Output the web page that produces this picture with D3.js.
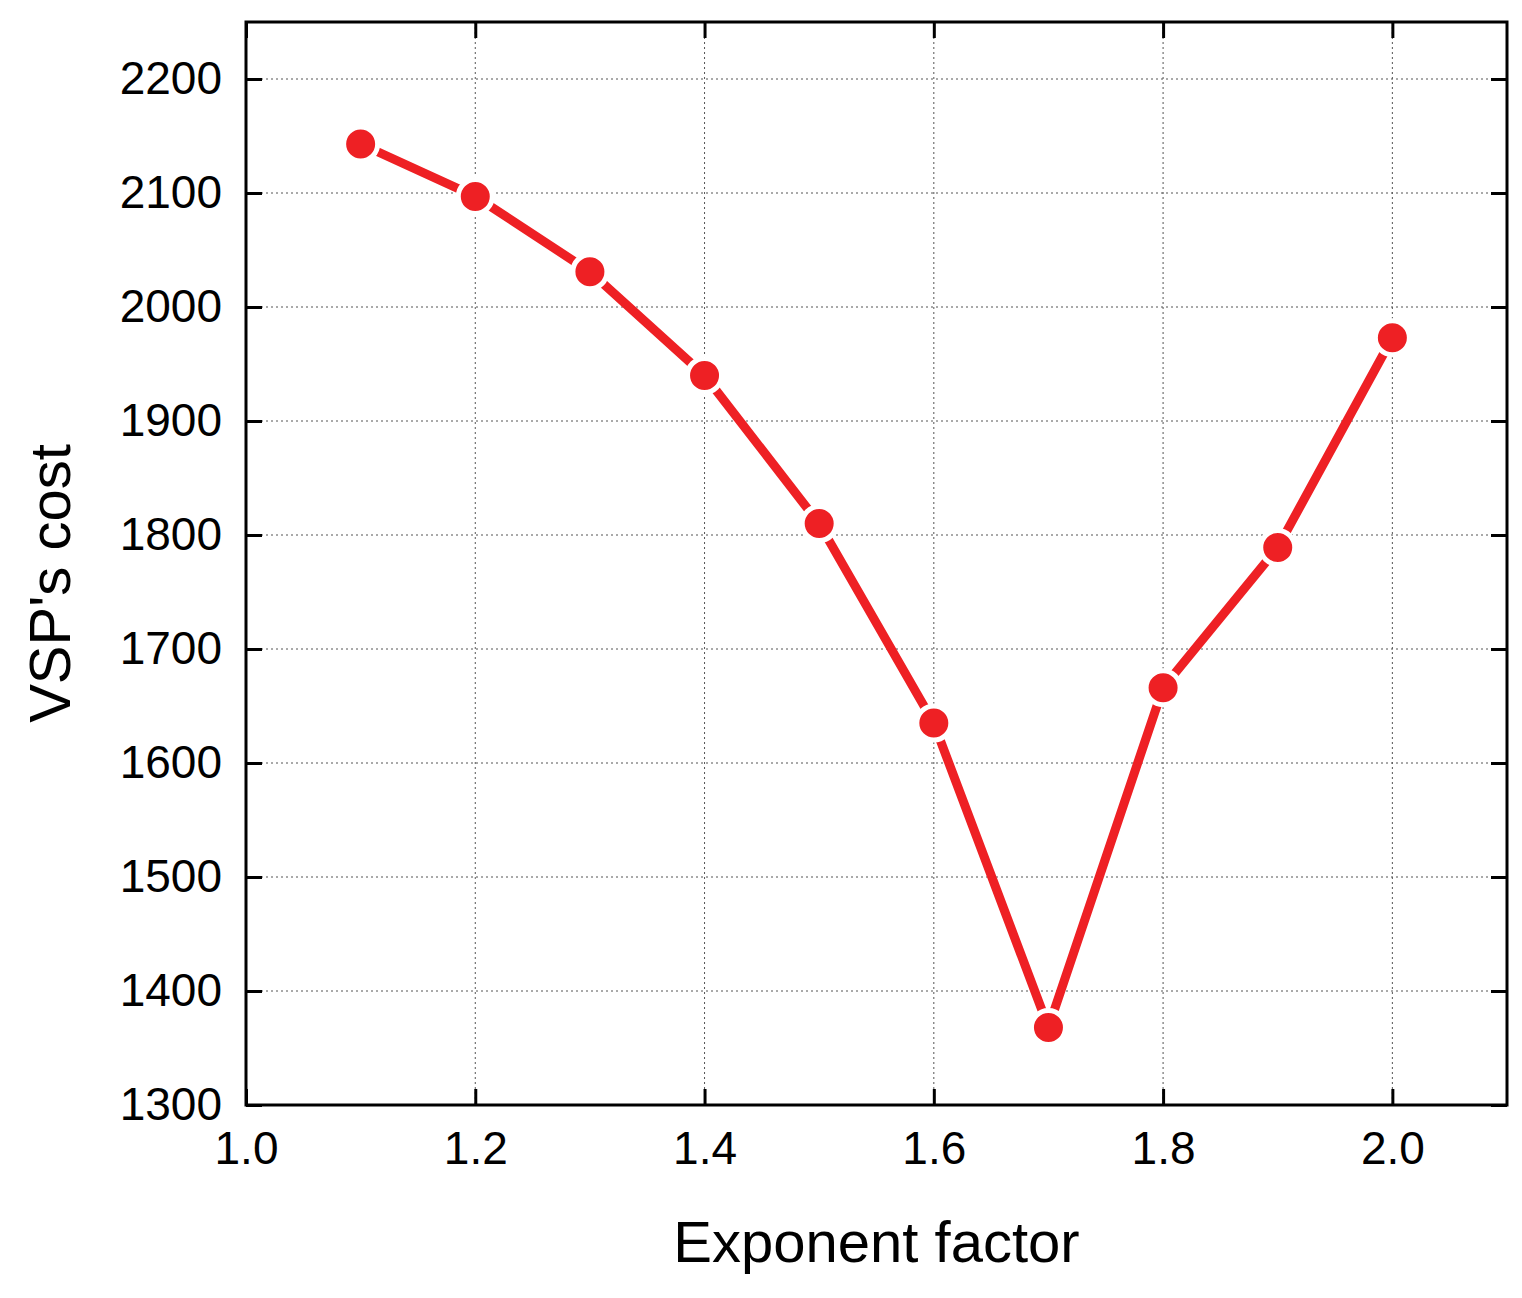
<!DOCTYPE html>
<html><head><meta charset="utf-8">
<script src="https://cdn.jsdelivr.net/npm/d3@7"></script>
<style>body{margin:0;background:#fff}text{font-family:"Liberation Sans",Arial,sans-serif}</style>
</head><body><div id="chart"></div>
<script>
const xValues = [1.1, 1.2, 1.3, 1.4, 1.5, 1.6, 1.7, 1.8, 1.9, 2.0];
const costValues = [2143, 2097, 2031, 1940, 1810, 1635, 1368, 1666, 1789, 1973];
const xTicks = [1.0, 1.2, 1.4, 1.6, 1.8, 2.0];
const yTicks = [1300, 1400, 1500, 1600, 1700, 1800, 1900, 2000, 2100, 2200];

const margin = { top: 22, right: 15, bottom: 193, left: 246 },
    width = 1522 - margin.left - margin.right,
    height = 1298 - margin.top - margin.bottom;

const svg = d3.select("#chart").append("svg")
    .attr("width", 1522).attr("height", 1298)
    .append("g")
    .attr("transform", "translate(" + margin.left + "," + margin.top + ")");

const x = d3.scaleLinear().domain([1.0, 2.1]).range([0, width]);
const y = d3.scaleLinear().domain([1300, 2250]).range([height, 0]);

// grid
svg.selectAll(".gx").data(xTicks.slice(1)).enter().append("line")
    .attr("x1", d => x(d)).attr("x2", d => x(d)).attr("y1", 0).attr("y2", height)
    .attr("stroke", "#555").attr("stroke-width", 1).attr("stroke-dasharray", "2,3");
svg.selectAll(".gy").data(yTicks.slice(1)).enter().append("line")
    .attr("y1", d => y(d)).attr("y2", d => y(d)).attr("x1", 0).attr("x2", width)
    .attr("stroke", "#555").attr("stroke-width", 1).attr("stroke-dasharray", "2,3");

function styleAxis(g) {
  g.select(".domain").remove();
  g.selectAll("line").attr("stroke", "#000").attr("stroke-width", 3);
  g.selectAll("text").attr("font-size", 46).attr("fill", "#000");
}
svg.append("g").attr("transform", "translate(0," + height + ")")
  .call(d3.axisBottom(x).tickValues(xTicks).tickFormat(d3.format(".1f")).tickSize(-16).tickPadding(26))
  .call(styleAxis);
svg.append("g").call(d3.axisTop(x).tickValues(xTicks).tickFormat("").tickSize(-16)).call(styleAxis);
svg.append("g")
  .call(d3.axisLeft(y).tickValues(yTicks).tickFormat(d3.format("d")).tickSize(-16).tickPadding(24))
  .call(styleAxis);
svg.append("g").attr("transform", "translate(" + width + ",0)")
  .call(d3.axisRight(y).tickValues(yTicks).tickFormat("").tickSize(-16)).call(styleAxis);

svg.append("rect").attr("width", width).attr("height", height)
  .attr("fill", "none").attr("stroke", "#000").attr("stroke-width", 3);

const data = xValues.map((v, i) => ({ x: v, y: costValues[i] }));
const line = d3.line().x(d => x(d.x)).y(d => y(d.y));
svg.append("path").datum(data).attr("d", line)
  .attr("fill", "none").attr("stroke", "#ee2024").attr("stroke-width", 9);
svg.selectAll(".pt").data(data).enter().append("circle")
  .attr("cx", d => x(d.x)).attr("cy", d => y(d.y)).attr("r", 17)
  .attr("fill", "#ee2024").attr("stroke", "#fff").attr("stroke-width", 5);

svg.append("text").attr("x", x(1.55)).attr("y", height + 157)
  .attr("text-anchor", "middle").attr("font-size", 58).text("Exponent factor");
svg.append("text").attr("transform", "translate(-176," + (height / 2 + 20) + ") rotate(-90)")
  .attr("text-anchor", "middle").attr("font-size", 58).text("VSP's cost");
</script></body></html>
